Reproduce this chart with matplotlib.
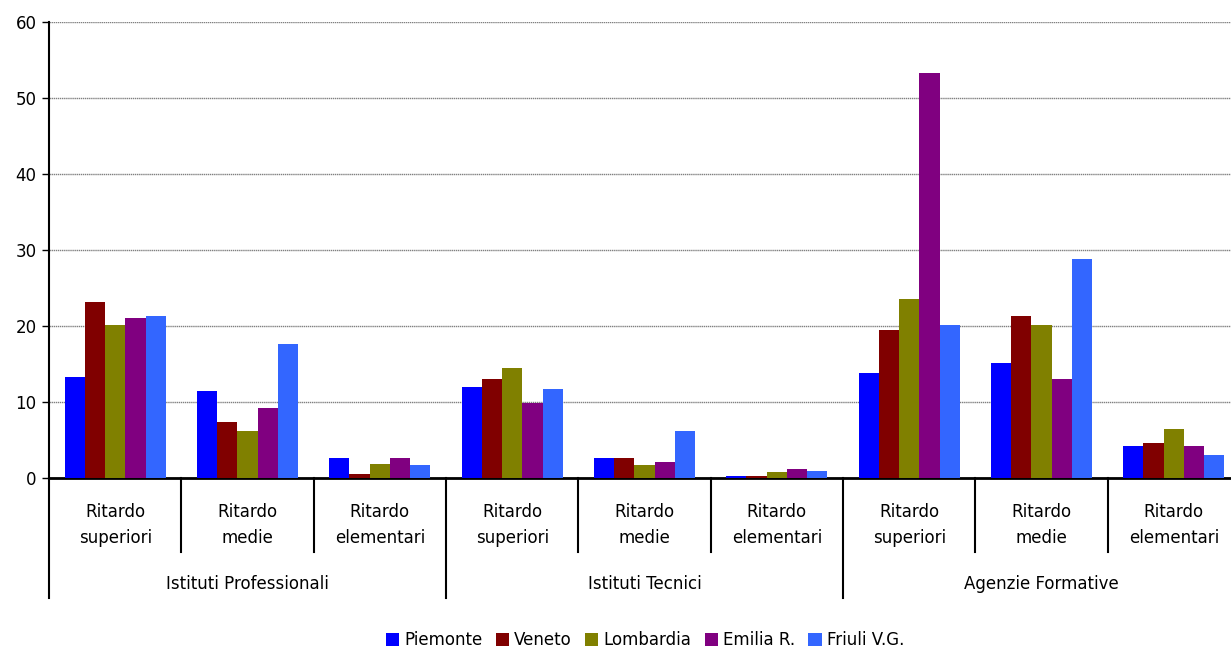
import numpy as np
import matplotlib
matplotlib.use("Agg")
import matplotlib.pyplot as plt
import matplotlib.transforms as mtransforms
from matplotlib.patches import Patch

# Data
macro = ["Istituti Professionali", "Istituti Tecnici", "Agenzie Formative"]
sub = ["Ritardo\nsuperiori", "Ritardo\nmedie", "Ritardo\nelementari"]
series = ["Piemonte", "Veneto", "Lombardia", "Emilia R.", "Friuli V.G."]
colors = ["#0000FF", "#800000", "#808000", "#800080", "#3366FF"]

piemonte = [13.3, 11.4, 2.6, 12.0, 2.6, 0.3, 13.8, 15.1, 4.2]
veneto = [23.2, 7.4, 0.5, 13.0, 2.6, 0.3, 19.5, 21.3, 4.6]
lombardia = [20.1, 6.2, 1.8, 14.5, 1.7, 0.8, 23.5, 20.1, 6.4]
emilia = [21.0, 9.2, 2.6, 9.9, 2.1, 1.2, 53.3, 13.0, 4.2]
friuli = [21.3, 17.6, 1.7, 11.7, 6.2, 0.9, 20.1, 28.8, 3.0]
values = [piemonte, veneto, lombardia, emilia, friuli]

plt.rcParams['font.family'] = ['DejaVu Sans']

fig = plt.figure(figsize=(12.31, 6.48), dpi=100)
# plot area runs a little past the right edge of the picture, as in the original
ax = fig.add_axes([49 / 1231, 1 - 478 / 648, 1191 / 1231, 456 / 648])

n_groups = len(piemonte)
x = np.arange(n_groups) + 0.5
w = 0.153
for k, (name, vals) in enumerate(zip(series, values)):
    ax.bar(x + (k - 2) * w, vals, width=w, color=colors[k], label=name, zorder=3)

ax.set_xlim(0, n_groups)
ax.set_ylim(0, 60)
ax.set_yticks(range(0, 61, 10))
ax.tick_params(axis='y', labelsize=12, length=5, width=1, direction='out', pad=4)
ax.set_xticks([])
ax.yaxis.grid(True, color='#808080', linewidth=1.0, linestyle=(0, (1, 0.5)), zorder=0)

for s in ['top', 'right']:
    ax.spines[s].set_visible(False)
ax.spines['left'].set_linewidth(1.5)
ax.spines['bottom'].set_linewidth(2)

# multi-level category axis
trans = mtransforms.blended_transform_factory(ax.transData, ax.transAxes)
inner_bottom = -74 / 456
outer_bottom = -120 / 456
for i in range(1, n_groups):
    if i % 3 == 0:
        continue
    ax.plot([i, i], [0, inner_bottom], color='black', lw=1.5, transform=trans, clip_on=False)
for i in range(0, n_groups, 3):
    ax.plot([i, i], [0, outer_bottom], color='black', lw=1.5, transform=trans, clip_on=False)

for i in range(n_groups):
    ax.text(x[i], -47 / 456, sub[i % 3], transform=trans, ha='center', va='center',
            fontsize=12, linespacing=1.6)
for j, name in enumerate(macro):
    ax.text(j * 3 + 1.5, -106 / 456, name, transform=trans, ha='center', va='center',
            fontsize=12)

handles = [Patch(facecolor=c, label=s) for c, s in zip(colors, series)]
fig.legend(handles=handles, loc='center', bbox_to_anchor=(645 / 1231, 1 - 640 / 648),
           ncol=5, frameon=False, fontsize=12, handlelength=0.8, handleheight=0.8,
           handletextpad=0.3, columnspacing=0.8, borderpad=0)

fig.savefig("out.png", dpi=100)
